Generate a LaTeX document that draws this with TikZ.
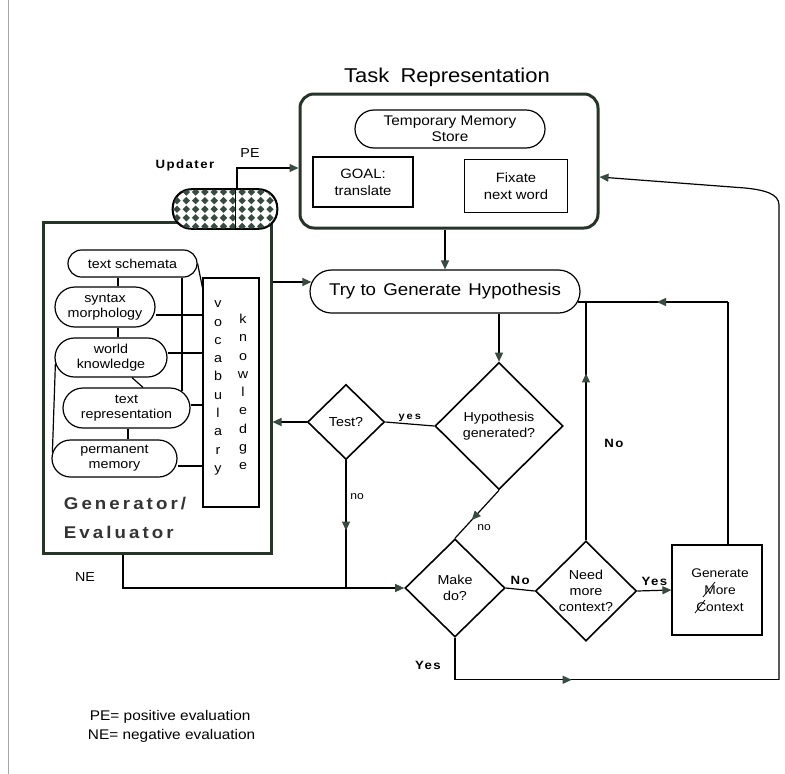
\documentclass[tikz,border=0pt]{standalone}
\usepackage{fontspec}
\setmainfont{Liberation Sans}[FakeStretch=1.1]
\usetikzlibrary{arrows.meta,shapes.geometric,decorations.markings,calc}
\definecolor{dkg}{RGB}{38,52,42}
\definecolor{tipc}{RGB}{55,75,65}
\begin{document}
\begin{tikzpicture}[x=1pt,y=-1pt,line width=1.2pt,
  arr/.style={-{Triangle[length=9pt,width=8pt,color=tipc]}},
  midarr/.style={postaction={decorate},decoration={markings,mark=at position #1 with {\arrow{Triangle[length=9pt,width=8pt,color=tipc]}}}},
  thickbox/.style={draw=dkg,line width=3pt},
  plainbox/.style={draw,line width=1.2pt,align=center,inner sep=1pt},
  dia/.style={diamond,draw,line width=1.6pt,inner sep=0pt,align=center,font=\fontsize{13}{16}\selectfont},
  inner/.style={plainbox,font=\fontsize{13}{15}\selectfont},
  lbl/.style={inner sep=1pt,font=\fontsize{12}{14}\selectfont},
  blbl/.style={inner sep=1pt,font=\bfseries\fontsize{12}{14}\selectfont\addfontfeature{LetterSpace=12}},
]
\useasboundingbox (0,0) rectangle (785,774);
\fill[white] (0,0) rectangle (785,774);
\draw[gray!70,line width=1pt] (8,0) -- (8,774);

% Task representation
\node[font=\fontsize{20}{24}\selectfont] (title) at (447,77) {Task\hspace{5pt} Representation};
\node[thickbox,rounded corners=14pt,minimum width=298pt,minimum height=134pt] (task) at (449,161) {};
\node[plainbox,rounded corners=19pt,minimum width=190pt,minimum height=38pt,font=\fontsize{14}{16}\selectfont] (tms) at (450,129) {Temporary Memory\\Store};
\node[plainbox,minimum width=100pt,minimum height=50pt,font=\fontsize{13.5}{17}\selectfont] (goal) at (363,182) {GOAL:\\translate};
\node[plainbox,minimum width=103pt,minimum height=53pt,font=\fontsize{13.5}{17}\selectfont] (fix) at (516,186) {Fixate\\next word};

% Generator / Evaluator
\node[thickbox,minimum width=228pt,minimum height=331pt] (gen) at (157,387.5) {};
\node[inner,rounded corners=13.5pt,minimum width=129pt,minimum height=27pt] (ts) at (132.5,263.5) {text schemata};
\node[inner,rounded corners=20pt,minimum width=100pt,minimum height=40pt] (sm) at (105,307) {syntax\\morphology};
\node[inner,rounded corners=19.5pt,minimum width=112pt,minimum height=39pt] (wk) at (111,357.5) {world\\knowledge};
\node[inner,rounded corners=20pt,minimum width=127pt,minimum height=40pt] (tr) at (126.5,408) {text\\representation};
\node[inner,rounded corners=18.5pt,minimum width=125pt,minimum height=37pt] (pm) at (114.5,458.5) {permanent\\memory};
\node[plainbox,minimum width=56pt,minimum height=229pt] (vk) at (231,392.5) {};
\node[align=center,inner sep=0pt,font=\fontsize{13}{18.3}\selectfont] (voc) at (218,388) {v\\o\\c\\a\\b\\u\\l\\a\\r\\y};
\node[align=center,inner sep=0pt,font=\fontsize{13}{18.3}\selectfont] (knw) at (243,392) {k\\n\\o\\w\\l\\e\\d\\g\\e};
\node[anchor=west,align=left,text=black!80,font=\bfseries\fontsize{17}{29}\selectfont\addfontfeature{LetterSpace=18}] (gelabel) at (60,517.5) {Generator/\\Evaluator};

\draw (ts.east) -- ($(vk.north west)+(0,10)$);
\draw ([xshift=-14.5pt]ts.south) -- ([xshift=-14.5pt]ts.south |- sm.north);
\draw ([xshift=13pt]sm.south) -- ([xshift=13pt]sm.south |- wk.north);
\draw ([xshift=21pt]wk.south) -- ([xshift=16.5pt]tr.north);
\draw ([xshift=1.5pt]tr.south) -- ([xshift=1.5pt]tr.south |- pm.north);
\draw ([xshift=49.5pt]ts.south) -- ([xshift=49.5pt,yshift=-4pt]ts.south |- tr.north);
\draw ([yshift=-8pt]sm.east) -- ([yshift=-8pt]sm.east -| vk.west);
\draw ([yshift=4.5pt]wk.east) -- ([yshift=4.5pt]wk.east -| vk.west);
\draw ([yshift=3pt]tr.east) -- ([yshift=3pt]tr.east -| vk.west);
\draw ([yshift=-7.5pt]pm.east) -- ([yshift=-7.5pt]pm.east -| vk.west);
\draw ([xshift=1pt,yshift=-6pt]wk.west) -- ([xshift=1pt,yshift=6pt]pm.west);

% Updater
\node[blbl] (updl) at (185,165) {Updater};
\node[draw,line width=1.3pt,fill=white,rounded corners=19pt,minimum width=104pt,minimum height=39pt] (upd) at (225,209) {};
\begin{scope}
  \clip[rounded corners=19pt] (upd.south west) rectangle (upd.north east);
  \foreach \i in {0,...,11}{\foreach \j in {0,...,4}{
    \fill[tipc,sharp corners] (177+\i*9.3,192+\j*8.6) +(0,-3.7) -- +(3.7,0) -- +(0,3.7) -- +(-3.7,0) -- cycle;}}
\end{scope}
\draw[line width=1.3pt,rounded corners=19pt] (upd.south west) rectangle (upd.north east);
\draw ([xshift=10.5pt]upd.north) -- ([xshift=10.5pt]upd.south);
\node[lbl,font=\fontsize{13}{14}\selectfont] (pel) at (250,153) {PE};
\draw[arr] ([xshift=12pt]upd.north) |- ([yshift=-7pt]task.west);

% main flow
\node[plainbox,rounded corners=21.5pt,minimum width=270pt,minimum height=43pt,font=\fontsize{17}{20}\selectfont] (try) at (445,291.5) {Try to\hspace{2pt} Generate\hspace{2pt} Hypothesis};
\node[dia,minimum width=128pt,minimum height=127pt] (hyp) at (499,426) {Hypothesis\\generated?};
\node[dia,minimum width=77pt,minimum height=75pt] (test) at (346,422) {Test?};
\node[dia,minimum width=100pt,minimum height=98pt] (makedo) at (455,588) {Make\\do?};
\node[dia,minimum width=101pt,minimum height=100pt] (need) at (586,591) {Need\\more\\context?};
\node[plainbox,minimum width=90pt,minimum height=90pt,font=\fontsize{12.5}{17}\selectfont] (gmc) at (717,590) {\hspace{6pt}Generate\\\hspace{6pt}More\\\hspace{6pt}Context};
\draw[line width=0.8pt] ($(gmc.center)+(-14,7)$) -- ($(gmc.center)+(-2,-8)$);
\draw[line width=0.8pt] ($(gmc.center)+(-22,23)$) -- ($(gmc.center)+(-12,10)$);

\draw[arr] (task.south -| try.north) -- (try.north);
\draw[arr] (gen.east |- 0,282) -- ($(try.west)+(2,-9.5)$);
\draw[arr] (try.south -| hyp.north) -- (hyp.north);
\draw (hyp.west) -- (test.east) node[midway,above=2pt,inner sep=0pt,font=\bfseries\fontsize{10}{12}\selectfont\addfontfeature{LetterSpace=20}] (yesl) {yes};
\draw[arr] (test.west) -- (test.west -| gen.east);
\draw[midarr=0.55] (test.south) -- (test.south |- makedo.west);
\node[lbl,font=\fontsize{11}{12}\selectfont] (nol1) at (357,497) {no};
\coordinate (nes) at ([xshift=-34pt]gen.south);
\draw[arr] (nes) |- (makedo.west);
\node[lbl,font=\fontsize{13}{14}\selectfont] (nel) at (85,577) {NE};
\draw[midarr=0.62] (hyp.south) -- (makedo.north);
\node[lbl,font=\fontsize{11}{12}\selectfont] (nol2) at (484,528) {no};
\draw (makedo.east) -- (need.west) node[midway,above=3pt,blbl] (nol3) {No};
\draw[arr] (need.east) -- (gmc.west) node[midway,above=3pt,blbl] (yesl2) {Yes};

\coordinate (tr1) at ([xshift=-3pt,yshift=-10.5pt]try.east);
\coordinate (jn) at (tr1 -| need.north);
\coordinate (gt) at ([xshift=11pt]gmc.north);
\draw (gt) -- (gt |- tr1) coordinate (jr);
\draw[midarr=0.5] (jr) -- (jn);
\draw (jn) -- (tr1);
\draw[midarr=0.7] (need.north) -- (jn);
\node[blbl] (nol4) at (614,443) {No};

\coordinate (bl) at ([yshift=-42pt]makedo.south);
\coordinate (redge) at (779,0);
\coordinate (br) at (bl -| redge);
\coordinate (rt) at (779,205);
\coordinate (rc) at (745,188);
\draw (makedo.south) -- (bl);
\node[blbl] (yesl3) at (428,665) {Yes};
\draw[midarr=0.36] (bl) -- (br);
\draw[arr] (br) -- (rt) .. controls (779,194) and (765,190) .. (rc) -- ($(task.east)+(0,16)$);

% legend
\node[anchor=west,font=\fontsize{14}{16}\selectfont] (leg1) at (86,717) {PE= positive evaluation};
\node[anchor=west,font=\fontsize{14}{16}\selectfont] (leg2) at (84,736) {NE= negative evaluation};
\end{tikzpicture}
\end{document}
